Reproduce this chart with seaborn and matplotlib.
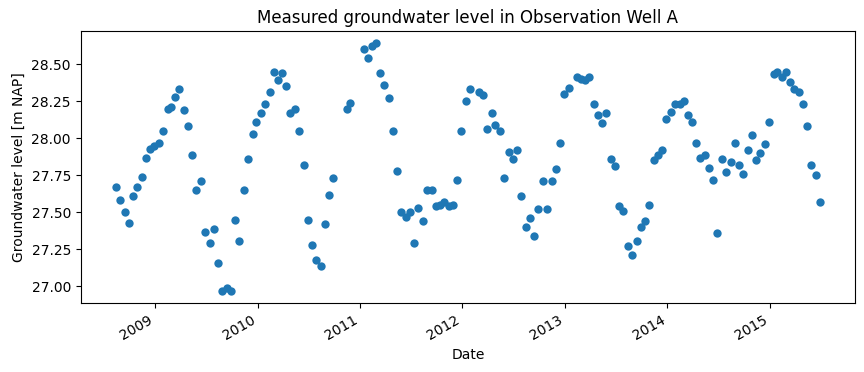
import pandas as pd
import matplotlib
matplotlib.use("Agg")
import matplotlib.pyplot as plt
import seaborn as sns

# measurement dates (14th and 28th of the month, some gaps)
dates = [
    "2008-08-14", "2008-08-28", "2008-09-14", "2008-09-28", "2008-10-14", "2008-10-28",
    "2008-11-14", "2008-11-28", "2008-12-14", "2008-12-28",
    "2009-01-14", "2009-01-28", "2009-02-14", "2009-02-28", "2009-03-14", "2009-03-28",
    "2009-04-14", "2009-04-28", "2009-05-14", "2009-05-28", "2009-06-14", "2009-06-28",
    "2009-07-14", "2009-07-28", "2009-08-14", "2009-08-28", "2009-09-14", "2009-09-28",
    "2009-10-14", "2009-10-28", "2009-11-14", "2009-11-28", "2009-12-14", "2009-12-28",
    "2010-01-14", "2010-01-28", "2010-02-14", "2010-02-28", "2010-03-14", "2010-03-28",
    "2010-04-14", "2010-04-28", "2010-05-14", "2010-05-28", "2010-06-14", "2010-06-28",
    "2010-07-14", "2010-07-28", "2010-08-14", "2010-08-28", "2010-09-14", "2010-09-28",
    "2010-11-14", "2010-11-28",
    "2011-01-14", "2011-01-28", "2011-02-14", "2011-02-28", "2011-03-14", "2011-03-28",
    "2011-04-14", "2011-04-28", "2011-05-14", "2011-05-28", "2011-06-14", "2011-06-28",
    "2011-07-14", "2011-07-28", "2011-08-14", "2011-08-28", "2011-09-14", "2011-09-28",
    "2011-10-14", "2011-10-28", "2011-11-14", "2011-11-28", "2011-12-14", "2011-12-28",
    "2012-01-14", "2012-01-28", "2012-02-28", "2012-03-14", "2012-03-28",
    "2012-04-14", "2012-04-28", "2012-05-14", "2012-05-28", "2012-06-14", "2012-06-28",
    "2012-07-14", "2012-07-28", "2012-08-14", "2012-08-28", "2012-09-14", "2012-09-28",
    "2012-10-14", "2012-10-28", "2012-11-14", "2012-11-28", "2012-12-14", "2012-12-28",
    "2013-01-14", "2013-02-14", "2013-02-28", "2013-03-14", "2013-03-28",
    "2013-04-14", "2013-04-28", "2013-05-14", "2013-05-28", "2013-06-14", "2013-06-28",
    "2013-07-14", "2013-07-28", "2013-08-14", "2013-08-28", "2013-09-14", "2013-09-28",
    "2013-10-14", "2013-10-28", "2013-11-14", "2013-11-28", "2013-12-14", "2013-12-28",
    "2014-01-14", "2014-01-28", "2014-02-14", "2014-02-28", "2014-03-14", "2014-03-28",
    "2014-04-14", "2014-04-28", "2014-05-14", "2014-05-28", "2014-06-14", "2014-06-28",
    "2014-07-14", "2014-07-28", "2014-08-14", "2014-08-28", "2014-09-14", "2014-09-28",
    "2014-10-14", "2014-10-28", "2014-11-14", "2014-11-28", "2014-12-14", "2014-12-28",
    "2015-01-14", "2015-01-28", "2015-02-14", "2015-02-28", "2015-03-14", "2015-03-28",
    "2015-04-14", "2015-04-28", "2015-05-14", "2015-05-28", "2015-06-14", "2015-06-28",
]

# groundwater level [m NAP]
levels = [
    27.67, 27.58, 27.50, 27.43, 27.61, 27.67, 27.74, 27.87, 27.93, 27.95,
    27.97, 28.05, 28.20, 28.21, 28.28, 28.33, 28.19, 28.08, 27.89, 27.65, 27.71, 27.37,
    27.29, 27.39, 27.16, 26.97, 26.99, 26.97, 27.45, 27.31, 27.65, 27.86, 28.03, 28.11,
    28.17, 28.23, 28.31, 28.45, 28.39, 28.44, 28.35, 28.17, 28.20, 28.05, 27.82, 27.45,
    27.28, 27.18, 27.14, 27.42, 27.62, 27.73, 28.20, 28.24,
    28.60, 28.54, 28.62, 28.64, 28.44, 28.36, 28.27, 28.05, 27.78, 27.50, 27.47, 27.50,
    27.29, 27.53, 27.44, 27.65, 27.65, 27.54, 27.55, 27.57, 27.54, 27.55, 27.72, 28.05,
    28.25, 28.33, 28.31, 28.29, 28.06, 28.17, 28.09, 28.05, 27.73, 27.91, 27.86,
    27.92, 27.61, 27.40, 27.46, 27.34, 27.52, 27.71, 27.52, 27.71, 27.79, 27.97, 28.30,
    28.34, 28.41, 28.40, 28.39, 28.41, 28.23, 28.16, 28.10, 28.17, 27.86, 27.81,
    27.54, 27.51, 27.27, 27.21, 27.31, 27.40, 27.44, 27.55, 27.85, 27.89, 27.92, 28.13,
    28.18, 28.23, 28.23, 28.25, 28.16, 28.11, 27.97, 27.87, 27.89, 27.80, 27.72, 27.36,
    27.86, 27.77, 27.84, 27.97, 27.82, 27.76, 27.92, 28.02, 27.85, 27.90, 27.96, 28.11,
    28.43, 28.45, 28.41, 28.45, 28.38, 28.33, 28.31, 28.23, 28.08, 27.82, 27.75, 27.57,
]

df = pd.DataFrame({"Date": pd.to_datetime(dates), "Level": levels})

fig, ax = plt.subplots(figsize=(8.64, 3.72), dpi=100)
sns.scatterplot(data=df, x="Date", y="Level", ax=ax, color="#1f77b4",
                s=36, linewidth=0, alpha=1)

ax.set_title("Measured groundwater level in Observation Well A")
ax.set_xlabel("Date")
ax.set_ylabel("Groundwater level [m NAP]")
fig.autofmt_xdate()
fig.subplots_adjust(left=0.0934, right=0.9896, top=0.9167, bottom=0.1847)

plt.savefig("out.png")
